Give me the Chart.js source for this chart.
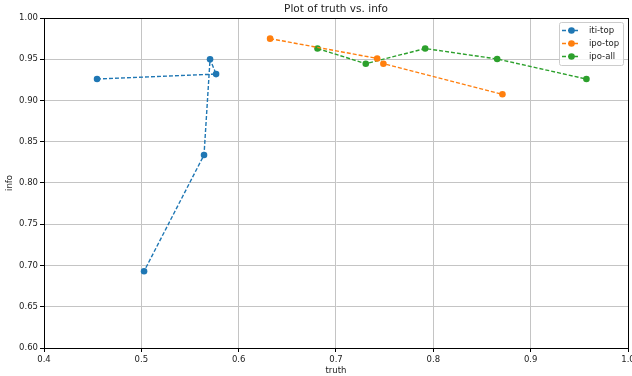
<!DOCTYPE html>
<html>
<head>
<meta charset="utf-8">
<script src="https://cdn.jsdelivr.net/npm/chart.js@4"></script>
<style>
  html, body { margin: 0; padding: 0; background: #fff; }
  #wrap { width: 632px; height: 376px; }
</style>
</head>
<body>
<div id="wrap"><canvas id="plot" width="632" height="376"></canvas></div>
<script>
// values
let seriesNames = ['iti-top', 'ipo-top', 'ipo-all']
let seriesColors = ['#1f77b4', '#ff7f0e', '#2ca02c']

let itiTopTruth = [0.4545, 0.5768, 0.5706, 0.5644, 0.5028]
let itiTopInfo = [0.926, 0.932, 0.950, 0.834, 0.693]

let ipoTopTruth = [0.6323, 0.7423, 0.7487, 0.8710]
let ipoTopInfo = [0.975, 0.951, 0.9446, 0.9075]

let ipoAllTruth = [0.6810, 0.7306, 0.7916, 0.8656, 0.9573]
let ipoAllInfo = [0.963, 0.9446, 0.963, 0.9503, 0.926]

let xTicks = [0.4, 0.5, 0.6, 0.7, 0.8, 0.9, 1.0]
let yTicks = [0.60, 0.65, 0.70, 0.75, 0.80, 0.85, 0.90, 0.95, 1.00]

let chartTitle = 'Plot of truth vs. info'
let font = "'DejaVu Sans', sans-serif"

function toPoints(xs, ys) {
    return xs.map(function(x, i) { return {x: x, y: ys[i]} })
}

let allX = [itiTopTruth, ipoTopTruth, ipoAllTruth]
let allY = [itiTopInfo, ipoTopInfo, ipoAllInfo]

let datasets = seriesNames.map(function(name, i) {
    return {
        label: name,
        data: toPoints(allX[i], allY[i]),
        showLine: true,
        borderColor: seriesColors[i],
        backgroundColor: seriesColors[i],
        borderWidth: 1.4,
        borderDash: [4, 2],
        pointRadius: 3.3,
        pointBorderWidth: 0,
        pointHoverRadius: 3.3
    }
})

// frame on all four sides, title over the plot area, legend box inside the plot
let framePlugin = {
    id: 'frame',
    afterDraw: function(chart) {
        let ctx = chart.ctx
        let a = chart.chartArea
        ctx.save()
        ctx.strokeStyle = '#000'
        ctx.lineWidth = 1
        ctx.strokeRect(Math.round(a.left) + 0.5, Math.round(a.top) + 0.5,
            Math.round(a.right - a.left), Math.round(a.bottom - a.top))

        // title centred on the plot area like matplotlib does
        ctx.fillStyle = '#222'
        ctx.font = '10.5px ' + font
        ctx.textAlign = 'center'
        ctx.textBaseline = 'middle'
        ctx.fillText(chartTitle, (a.left + a.right) / 2, 9)

        // legend
        let bx = 559.5, by = 22.5, bw = 64, bh = 43
        ctx.fillStyle = 'rgba(255,255,255,0.8)'
        ctx.strokeStyle = '#cccccc'
        ctx.beginPath()
        ctx.roundRect(bx, by, bw, bh, 2)
        ctx.fill()
        ctx.stroke()
        ctx.font = '8.5px ' + font
        ctx.textAlign = 'left'
        chart.data.datasets.forEach(function(ds, i) {
            let ry = 30.5 + i * 13
            ctx.strokeStyle = ds.borderColor
            ctx.lineWidth = 1.4
            ctx.setLineDash([4, 2])
            ctx.beginPath()
            ctx.moveTo(562, ry)
            ctx.lineTo(580, ry)
            ctx.stroke()
            ctx.setLineDash([])
            ctx.fillStyle = ds.backgroundColor
            ctx.beginPath()
            ctx.arc(571.5, ry, 3.3, 0, Math.PI * 2)
            ctx.fill()
            ctx.fillStyle = '#222'
            ctx.fillText(ds.label, 589, ry)
        })
        ctx.restore()
    }
}

let chart = new Chart(document.getElementById('plot'), {
    type: 'scatter',
    data: { datasets: datasets },
    options: {
        responsive: false,
        animation: false,
        layout: { padding: { left: 0, right: 4, top: 18, bottom: 0 } },
        plugins: {
            legend: { display: false },
            tooltip: { enabled: false },
            title: { display: false }
        },
        scales: {
            x: {
                type: 'linear',
                min: 0.4,
                max: 1.0,
                afterBuildTicks: function(s) { s.ticks = xTicks.map(function(v) { return {value: v} }) },
                afterFit: function(s) { s.height = 28; s.paddingLeft = 0; s.paddingRight = 0 },
                ticks: {
                    color: '#222',
                    font: { family: font, size: 8.5 },
                    padding: 3,
                    maxRotation: 0,
                    callback: function(v) { return v.toFixed(1) }
                },
                grid: { color: '#c4c4c4', lineWidth: 1, tickLength: 4, tickColor: '#000' },
                border: { color: '#000', width: 1 },
                title: {
                    display: true,
                    text: 'truth',
                    color: '#222',
                    font: { family: font, size: 8.5 },
                    padding: { top: 0, bottom: 0 }
                }
            },
            y: {
                type: 'linear',
                min: 0.6,
                max: 1.0,
                afterBuildTicks: function(s) { s.ticks = yTicks.map(function(v) { return {value: v} }) },
                afterFit: function(s) { s.width = 44; s.paddingTop = 0; s.paddingBottom = 0 },
                ticks: {
                    color: '#222',
                    font: { family: font, size: 8.5 },
                    padding: 2,
                    callback: function(v) { return v.toFixed(2) }
                },
                grid: { color: '#c4c4c4', lineWidth: 1, tickLength: 4, tickColor: '#000' },
                border: { color: '#000', width: 1 },
                title: {
                    display: true,
                    text: 'info',
                    color: '#222',
                    font: { family: font, size: 8.5 },
                    padding: { top: 5, bottom: 0 }
                }
            }
        }
    },
    plugins: [framePlugin]
})
</script>
</body>
</html>
